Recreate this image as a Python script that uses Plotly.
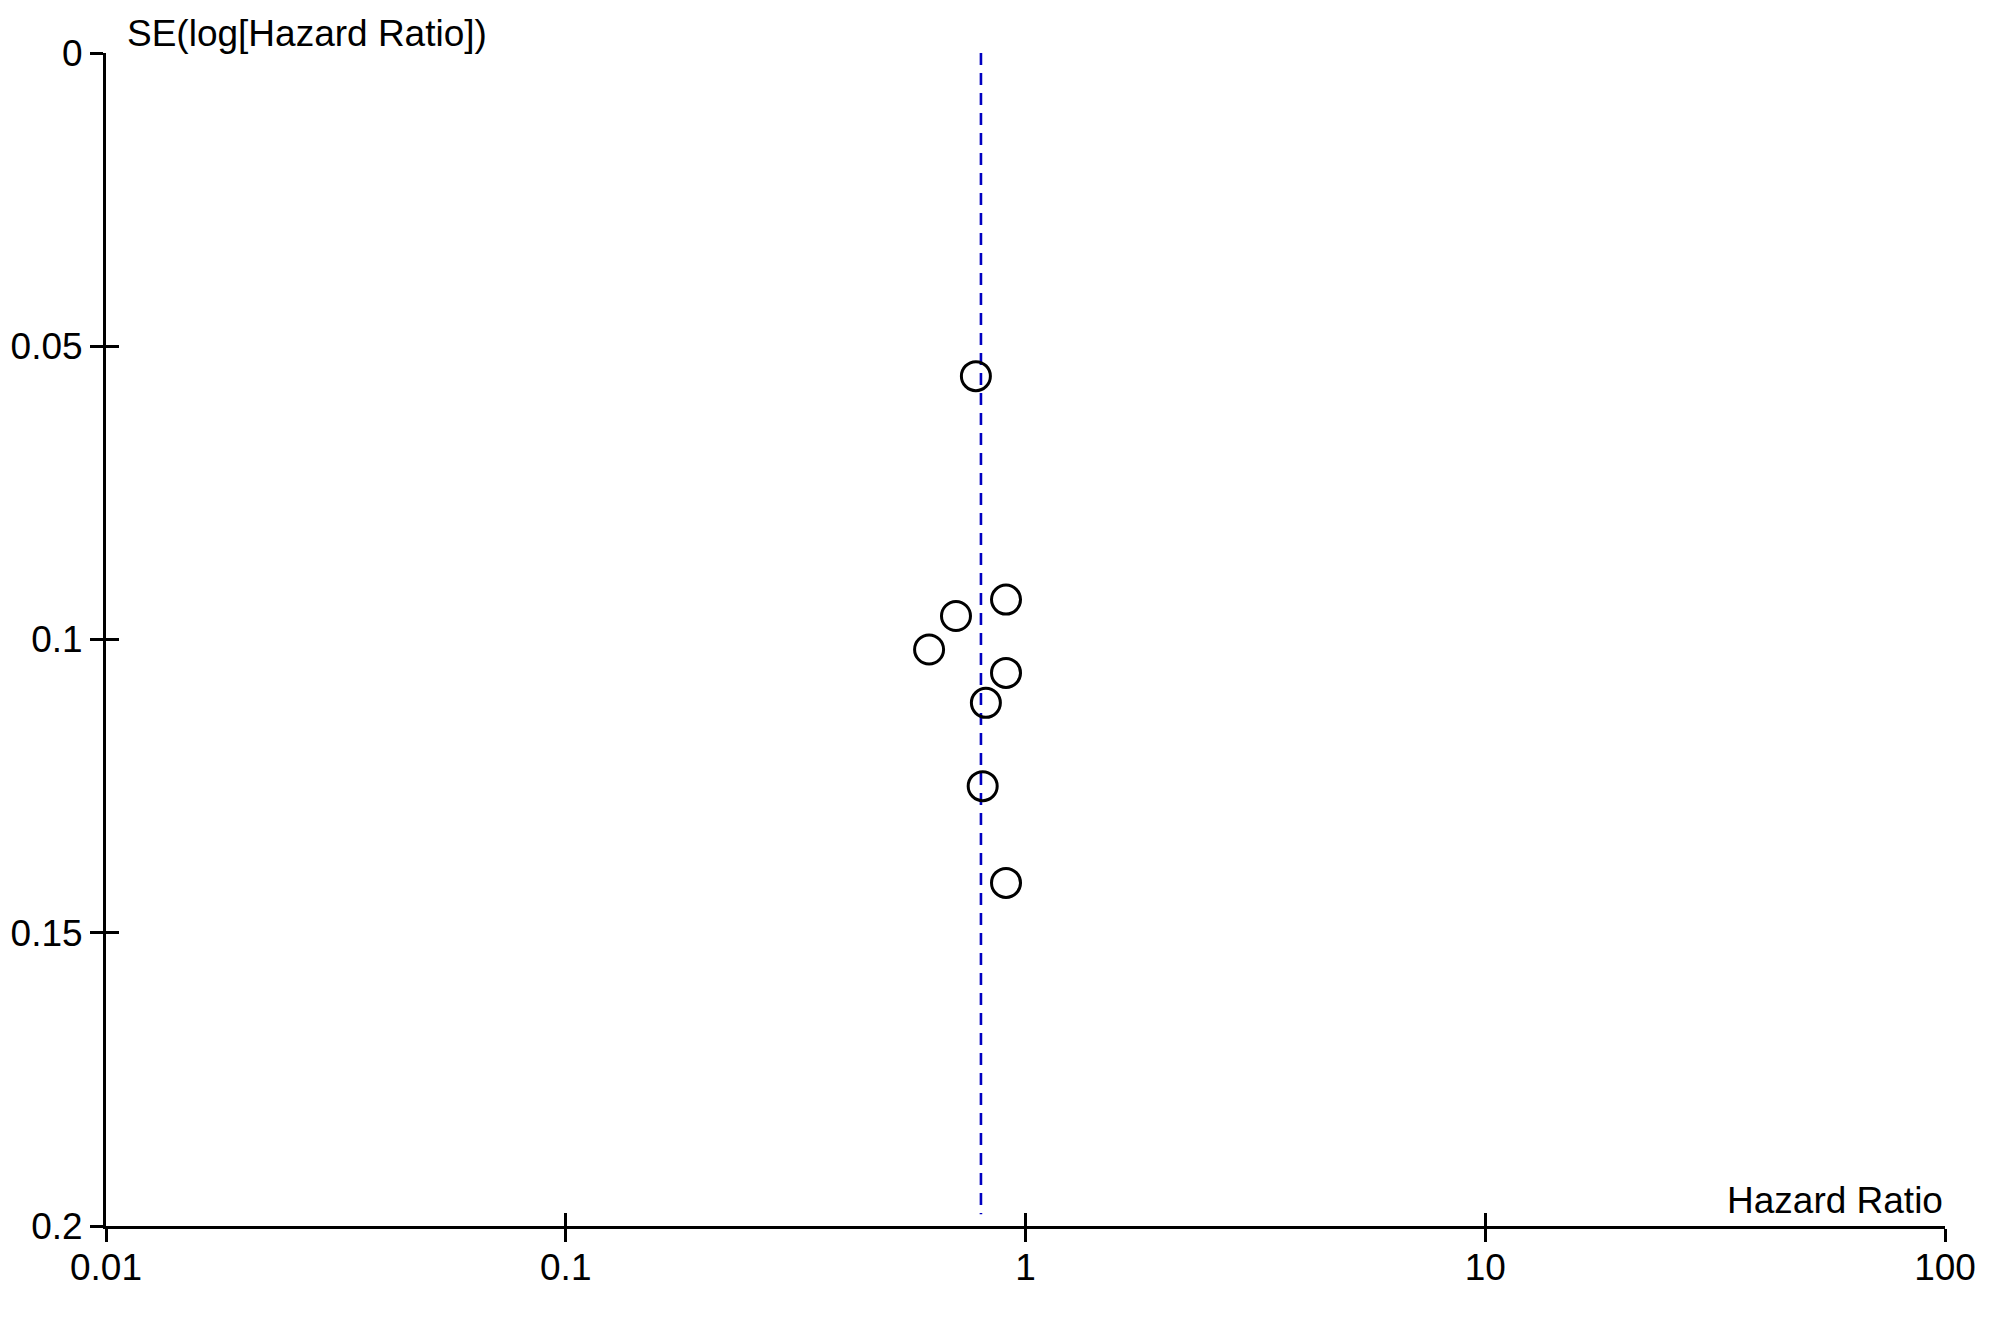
import plotly.graph_objects as go

# Study estimates (hazard ratio, standard error of log HR)
hazard_ratio = [0.78, 0.907, 0.706, 0.617, 0.907, 0.820, 0.807, 0.907]
se_log_hr = [0.0551, 0.0932, 0.0960, 0.1017, 0.1057, 0.1108, 0.1250, 0.1415]

# Pooled estimate line
pooled_hr = 0.80
pooled_se_span = [0.0, 0.198]

x_tickvals = [0.01, 0.1, 1, 10, 100]
x_ticktext = ["0.01", "0.1", "1", "10", "100"]
y_tickvals = [0, 0.05, 0.1, 0.15, 0.2]
y_ticktext = ["0", "0.05", "0.1", "0.15", "0.2"]

FONT = "Liberation Sans, Arial, sans-serif"
FS = 37

fig = go.Figure()

fig.add_trace(go.Scatter(
    x=[pooled_hr, pooled_hr], y=pooled_se_span,
    mode="lines", line=dict(color="#0000C0", width=2.6, dash="12px,8px"),
    hoverinfo="skip", showlegend=False, xaxis="x", yaxis="y",
))

fig.add_trace(go.Scatter(
    x=hazard_ratio, y=se_log_hr, mode="markers",
    marker=dict(symbol="circle-open", size=29, color="black",
                line=dict(width=3, color="black")),
    showlegend=False, xaxis="x2", yaxis="y2",
))

common_x = dict(type="log", range=[-2, 2], showgrid=False, zeroline=False,
                tickvals=x_tickvals, ticktext=x_ticktext, automargin=False,
                tickwidth=2.8, ticklen=13, tickcolor="black")
common_y = dict(range=[0.2, 0], showgrid=False, zeroline=False,
                tickvals=y_tickvals, ticktext=y_ticktext, automargin=False,
                tickwidth=2.8, ticklen=13, tickcolor="black")

fig.update_layout(
    width=1991, height=1325,
    margin=dict(l=98, r=54, t=45, b=107),
    paper_bgcolor="white", plot_bgcolor="white",
    font=dict(family=FONT, size=FS, color="black"),
    xaxis=dict(**common_x, ticks="outside", showline=True, linewidth=3,
               linecolor="black", tickfont=dict(family=FONT, size=FS, color="black"),
               ticklabelstandoff=-6, anchor="y"),
    yaxis=dict(**common_y, ticks="outside", showline=True, linewidth=3,
               linecolor="black", tickfont=dict(family=FONT, size=FS, color="black"),
               anchor="x"),
    xaxis2=dict(**common_x, ticks="inside", showline=False, showticklabels=False,
                overlaying="x", anchor="y2", side="bottom"),
    yaxis2=dict(**common_y, ticks="inside", showline=False, showticklabels=False,
                overlaying="y", anchor="x2", side="left"),
    annotations=[
        dict(text="SE(log[Hazard Ratio])", xref="paper", yref="paper",
             x=0.0106, y=1.0162, xanchor="left", yanchor="middle",
             showarrow=False, font=dict(family=FONT, size=FS, color="black")),
        dict(text="Hazard Ratio", xref="paper", yref="paper",
             x=1.0, y=0.0217, xanchor="right", yanchor="middle",
             showarrow=False, font=dict(family=FONT, size=FS, color="black")),
    ],
)

fig.write_html("out.html")
